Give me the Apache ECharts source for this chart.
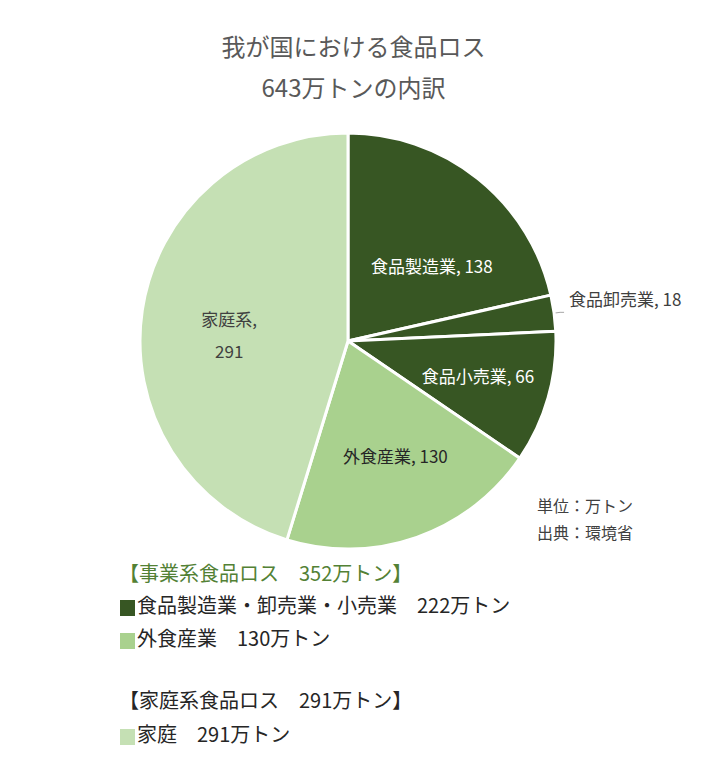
<!DOCTYPE html>
<html><head><meta charset="utf-8">
<script src="https://cdn.jsdelivr.net/npm/echarts@6/dist/echarts.min.js"></script>
<style>html,body{margin:0;padding:0;background:#fff}#c{width:707px;height:783px}</style>
</head><body><div id="c"></div>
<script>
const categories = ['食品製造業', '食品卸売業', '食品小売業', '外食産業', '家庭系'];
const values = [138, 18, 66, 130, 291];
const titleLines = ['我が国における食品ロス', '643万トンの内訳'];
const noteLines = ['単位：万トン', '出典：環境省'];
const legendLines = ['【事業系食品ロス　352万トン】', '食品製造業・卸売業・小売業　222万トン', '外食産業　130万トン', '【家庭系食品ロス　291万トン】', '家庭　291万トン'];

const colors = ['#375623', '#375623', '#375623', '#A9D18E', '#C5E0B4'];
const labelColors = ['#ffffff', '#404040', '#ffffff', '#262626', '#404040'];
const offsets = [[17, 8], [0, 0], [27, 5], [12, 14], [-13, 9]];
const FONT = '"Noto Sans CJK JP", "Noto Sans", sans-serif';

const data = categories.map((c, i) => {
  const item = {
    name: c, value: values[i],
    itemStyle: { color: colors[i] },
    label: { color: labelColors[i], offset: offsets[i] }
  };
  if (i === 1) {
    item.label = { position: 'outside', color: '#404040', offset: [0, -14] };
    item.labelLine = { show: true, length: 6, length2: 4, lineStyle: { color: '#a6a6a6', width: 1 } };
  }
  if (i === 4) {
    item.label.formatter = '{b},\n\n{c}';
  }
  return item;
});

const chart = echarts.init(document.getElementById('c'), null, { renderer: 'svg' });
const legendColorsSq = [null, '#375623', '#A9D18E', null, '#C5E0B4'];
const legendY = [576, 608, 641, 703, 737];
const legendTextColors = ['#538135', '#262626', '#262626', '#262626', '#262626'];
const graphics = [];
titleLines.forEach((t, i) => graphics.push({
  type: 'text', left: 'center', top: 33 + i * 41,
  style: { text: t, font: '24px ' + FONT, fill: '#595959' }
}));
noteLines.forEach((t, i) => graphics.push({
  type: 'text', left: 537, top: 497 + i * 27,
  style: { text: t, font: '16px ' + FONT, fill: '#404040' }
}));
legendLines.forEach((t, i) => {
  const hasSq = legendColorsSq[i] !== null;
  if (hasSq) graphics.push({
    type: 'rect', shape: { x: 120, y: legendY[i] - 8, width: 15, height: 16 },
    style: { fill: legendColorsSq[i] }
  });
  graphics.push({
    type: 'text', left: hasSq ? 137 : 119, top: legendY[i] - 14,
    style: { text: t, font: '20px ' + FONT, fill: legendTextColors[i] }
  });
});

chart.setOption({
  animation: false,
  graphic: graphics,
  series: [{
    type: 'pie',
    center: [348, 341],
    radius: 208,
    startAngle: 90,
    clockwise: true,
    avoidLabelOverlap: false,
    itemStyle: { borderColor: '#ffffff', borderWidth: 3 },
    label: {
      show: true, position: 'inside', formatter: '{b}, {c}',
      fontFamily: FONT, fontSize: 17, lineHeight: 16
    },
    labelLine: { show: false },
    emphasis: { disabled: true },
    data: data
  }]
});
</script></body></html>
